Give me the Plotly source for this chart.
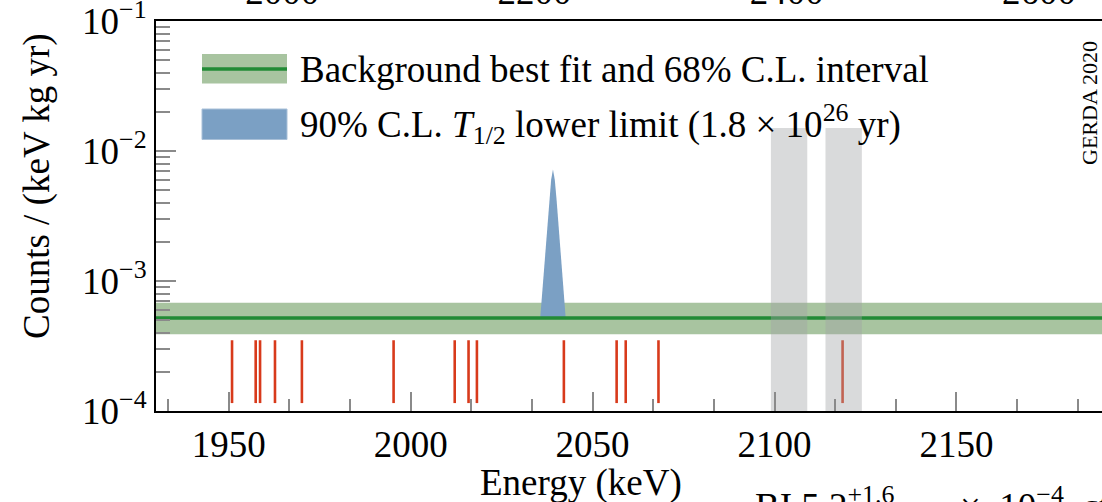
import plotly.graph_objects as go

# ---------------- data ----------------
energy_range = [1930, 2190]
top_axis_range = [1900, 2650]
top_axis_ticks = [2000, 2200, 2400, 2600]

bkg_best = 5.2e-4
bkg_low = 3.9e-4
bkg_high = 6.8e-4

event_energies = [1950.9, 1957.4, 1958.6, 1962.7, 1970.1, 1995.3, 2012.1,
                  2015.9, 2018.2, 2042.1, 2056.6, 2059.1, 2068.1, 2118.7]
event_bar_low = 1.15e-4
event_bar_high = 3.5e-4

peak_energy = [2035.6, 2036.1, 2036.6, 2037.1, 2037.6, 2038.1, 2038.6, 2039.1,
               2039.6, 2040.1, 2040.6, 2041.1, 2041.6, 2042.1, 2042.6]
peak_counts = [5.2e-4, 7.8e-4, 1.1e-3, 1.65e-3, 2.7e-3, 4.2e-3, 6.0e-3, 7.2e-3,
               6.0e-3, 4.2e-3, 2.7e-3, 1.65e-3, 1.1e-3, 7.8e-4, 5.2e-4]

excluded_windows = [(2099, 2109), (2114, 2124)]
excluded_top = 0.015

y_tick_vals = [1e-4, 1e-3, 1e-2, 1e-1]
y_tick_text = ["10<sup>−4</sup>", "10<sup>−3</sup>", "10<sup>−2</sup>", "10<sup>−1</sup>"]

# ---------------- style ----------------
FONT = "Liberation Serif"
FS = 37
GREEN_BAND = "#a8c4a0"
GREEN_LINE = "#228b36"
BLUE = "#7ba0c4"
RED = "#d83a1b"
GREY = "rgba(160,162,166,0.4)"
TICK = "#8a8a8a"

fig = go.Figure()

fig.add_trace(go.Scatter(
    x=[energy_range[0], energy_range[1], energy_range[1], energy_range[0], energy_range[0]],
    y=[bkg_low, bkg_low, bkg_high, bkg_high, bkg_low],
    fill="toself", fillcolor=GREEN_BAND, line=dict(width=0),
    mode="lines", hoverinfo="skip", showlegend=False))

fig.add_trace(go.Scatter(
    x=peak_energy + [peak_energy[0]],
    y=peak_counts + [peak_counts[0]],
    fill="toself", fillcolor=BLUE, line=dict(width=0, color=BLUE),
    mode="lines", hoverinfo="skip", showlegend=False))

fig.add_trace(go.Scatter(
    x=energy_range, y=[bkg_best, bkg_best], mode="lines",
    line=dict(color=GREEN_LINE, width=3.5), hoverinfo="skip", showlegend=False))

ex, ey = [], []
for e in event_energies:
    ex += [e, e, None]
    ey += [event_bar_low, event_bar_high, None]
fig.add_trace(go.Scatter(x=ex, y=ey, mode="lines",
                         line=dict(color=RED, width=2.6),
                         hoverinfo="skip", showlegend=False))

for (a, b) in excluded_windows:
    fig.add_trace(go.Scatter(
        x=[a, b, b, a, a], y=[1e-4, 1e-4, excluded_top, excluded_top, 1e-4],
        fill="toself", fillcolor=GREY, line=dict(width=0),
        mode="lines", hoverinfo="skip", showlegend=False))

fig.add_trace(go.Scatter(x=[top_axis_ticks[0]], y=[1e-3], xaxis="x2",
                         mode="markers", marker=dict(opacity=0),
                         hoverinfo="skip", showlegend=False))

L, R, T, B = 156, 0, 21, 91
W, H = 1102, 502
pw, ph = W - L - R, H - T - B

def px(x):
    return (x - L) / pw

def py(y):
    return (H - B - y) / ph

shapes = [
    dict(type="rect", xref="paper", yref="paper", x0=px(202), x1=px(287),
         y0=py(83.5), y1=py(54), fillcolor=GREEN_BAND, line=dict(width=0)),
    dict(type="line", xref="paper", yref="paper", x0=px(202), x1=px(287),
         y0=py(69), y1=py(69), line=dict(color=GREEN_LINE, width=3.5)),
    dict(type="rect", xref="paper", yref="paper", x0=px(202), x1=px(287),
         y0=py(139.5), y1=py(109), fillcolor=BLUE,
         line=dict(width=1, color="#a9c0d8")),
]

annotations = [
    dict(text="Background best fit and 68% C.L. interval", xref="paper", yref="paper",
         x=px(298), y=py(69), xanchor="left", yanchor="middle", showarrow=False,
         font=dict(size=FS, family=FONT, color="black")),
    dict(text="90% C.L. <i>T</i><sub>1/2</sub> lower limit (1.8 × 10<sup>26</sup> yr)",
         xref="paper", yref="paper",
         x=px(298), y=py(124), xanchor="left", yanchor="middle", showarrow=False,
         font=dict(size=FS, family=FONT, color="black")),
    dict(text="GERDA 2020", xref="paper", yref="paper", x=px(1089), y=py(103),
         xanchor="center", yanchor="middle", textangle=-90, showarrow=False,
         font=dict(size=22, family=FONT, color="black")),
    dict(text="Counts / (keV kg yr)", xref="paper", yref="paper", x=px(37), y=py(186),
         xanchor="center", yanchor="middle", textangle=-90, showarrow=False,
         font=dict(size=FS, family=FONT, color="black")),
    dict(text="Energy (keV)", xref="paper", yref="paper", x=px(581), y=py(483),
         xanchor="center", yanchor="middle", showarrow=False,
         font=dict(size=FS, family=FONT, color="black")),
    dict(text="BI 5.2<sup>+1.6</sup><sub>−1.3</sub>  ×  10<sup>−4</sup>  cts/(keV kg yr)",
         xref="paper", yref="paper", x=px(753), y=py(478),
         xanchor="left", yanchor="top", showarrow=False,
         font=dict(size=FS, family=FONT, color="black")),
]

fig.update_layout(
    width=W, height=H,
    margin=dict(l=L, r=R, t=T, b=B, autoexpand=False),
    paper_bgcolor="white", plot_bgcolor="white",
    font=dict(family=FONT, size=FS, color="black"),
    shapes=shapes, annotations=annotations,
    xaxis=dict(range=energy_range, showgrid=False, zeroline=False, automargin=False,
               showline=True, linecolor="black", linewidth=2,
               ticks="inside", ticklen=19, tickcolor=TICK, tickwidth=1.5,
               tick0=1950, dtick=50, tickfont=dict(size=FS, family=FONT),
               ticklabeloverflow="allow",
               minor=dict(ticks="inside", ticklen=12, tickcolor=TICK, tickwidth=1.5,
                          tick0=1950, dtick=50 / 3)),
    xaxis2=dict(range=top_axis_range, overlaying="x", side="top", anchor="y",
                automargin=False, ticklabeloverflow="allow",
                showgrid=False, zeroline=False, showline=True, linecolor="black",
                linewidth=2, ticks="", tickvals=top_axis_ticks,
                tickfont=dict(size=FS, family=FONT)),
    yaxis=dict(type="log", range=[-4.0002, -0.9998], showgrid=False, zeroline=False,
               automargin=False, ticklabeloverflow="allow",
               showline=True, linecolor="black", linewidth=2,
               ticks="inside", ticklen=20, tickcolor=TICK, tickwidth=1.5,
               tickvals=y_tick_vals, ticktext=y_tick_text,
               tickfont=dict(size=FS, family=FONT),
               minor=dict(ticks="inside", ticklen=14, tickcolor=TICK, tickwidth=1.5,
                          tickvals=[m * 10 ** k for k in range(-4, -1) for m in range(2, 10)])),
)

fig.write_html("out.html")
